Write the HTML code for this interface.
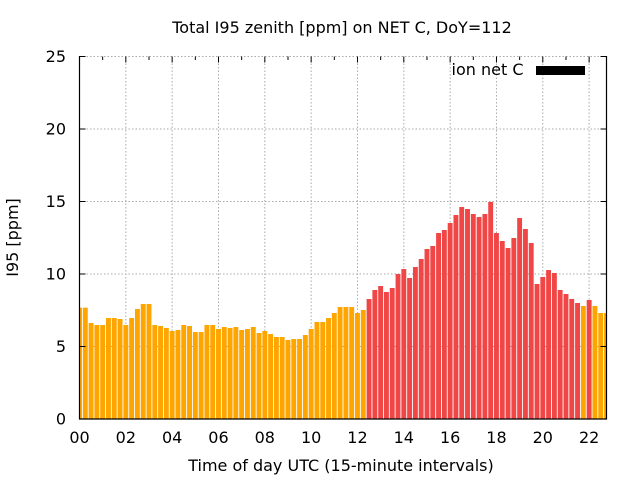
<!DOCTYPE html>
<html>
<head>
<meta charset="utf-8">
<style>
  html, body { margin:0; padding:0; background:#fff; }
  svg { display:block; }
  text { font-family: "DejaVu Sans", "Liberation Sans", sans-serif; font-size:16px; fill:#000; }
</style>
</head>
<body>
<svg width="640" height="480" viewBox="0 0 640 480" xmlns="http://www.w3.org/2000/svg">
  <rect x="0" y="0" width="640" height="480" fill="#fff"/>
  <defs>
    <clipPath id="plot"><rect x="79.5" y="56.5" width="527" height="362.5"/></clipPath>
  </defs>

  <g stroke="#aaaaaa" stroke-width="1" stroke-dasharray="1.5,2" fill="none">
    <line x1="79.5" y1="346.5" x2="606.5" y2="346.5"/>
    <line x1="79.5" y1="274" x2="606.5" y2="274"/>
    <line x1="79.5" y1="201.5" x2="606.5" y2="201.5"/>
    <line x1="79.5" y1="129" x2="606.5" y2="129"/>
    <line x1="79.5" y1="56.5" x2="606.5" y2="56.5"/>
    <line x1="125.83" y1="56.5" x2="125.83" y2="419"/>
    <line x1="172.16" y1="56.5" x2="172.16" y2="419"/>
    <line x1="218.49" y1="56.5" x2="218.49" y2="419"/>
    <line x1="264.82" y1="56.5" x2="264.82" y2="419"/>
    <line x1="311.15" y1="56.5" x2="311.15" y2="419"/>
    <line x1="357.48" y1="56.5" x2="357.48" y2="419"/>
    <line x1="403.81" y1="56.5" x2="403.81" y2="419"/>
    <line x1="450.14" y1="56.5" x2="450.14" y2="419"/>
    <line x1="496.47" y1="56.5" x2="496.47" y2="419"/>
    <line x1="542.8" y1="56.5" x2="542.8" y2="419"/>
    <line x1="589.13" y1="56.5" x2="589.13" y2="419"/>
  </g>

  <g clip-path="url(#plot)">
    <g fill="#ffa500">
      <rect x="77.05" y="307.7" width="4.9" height="111.3"/>
      <rect x="82.84" y="307.7" width="4.9" height="111.3"/>
      <rect x="88.63" y="323" width="4.9" height="96"/>
      <rect x="94.42" y="325" width="4.9" height="94"/>
      <rect x="100.21" y="325" width="4.9" height="94"/>
      <rect x="106.01" y="318" width="4.9" height="101"/>
      <rect x="111.80" y="318" width="4.9" height="101"/>
      <rect x="117.59" y="319" width="4.9" height="100"/>
      <rect x="123.38" y="325" width="4.9" height="94"/>
      <rect x="129.17" y="318" width="4.9" height="101"/>
      <rect x="134.96" y="309" width="4.9" height="110"/>
      <rect x="140.75" y="304" width="4.9" height="115"/>
      <rect x="146.54" y="304" width="4.9" height="115"/>
      <rect x="152.34" y="325" width="4.9" height="94"/>
      <rect x="158.13" y="326" width="4.9" height="93"/>
      <rect x="163.92" y="328" width="4.9" height="91"/>
      <rect x="169.71" y="331" width="4.9" height="88"/>
      <rect x="175.50" y="330" width="4.9" height="89"/>
      <rect x="181.29" y="325" width="4.9" height="94"/>
      <rect x="187.08" y="326" width="4.9" height="93"/>
      <rect x="192.87" y="332" width="4.9" height="87"/>
      <rect x="198.67" y="332" width="4.9" height="87"/>
      <rect x="204.46" y="325" width="4.9" height="94"/>
      <rect x="210.25" y="325" width="4.9" height="94"/>
      <rect x="216.04" y="329" width="4.9" height="90"/>
      <rect x="221.83" y="327" width="4.9" height="92"/>
      <rect x="227.62" y="328" width="4.9" height="91"/>
      <rect x="233.41" y="327" width="4.9" height="92"/>
      <rect x="239.20" y="330" width="4.9" height="89"/>
      <rect x="244.99" y="329" width="4.9" height="90"/>
      <rect x="250.79" y="327" width="4.9" height="92"/>
      <rect x="256.58" y="333" width="4.9" height="86"/>
      <rect x="262.37" y="331" width="4.9" height="88"/>
      <rect x="268.16" y="334" width="4.9" height="85"/>
      <rect x="273.95" y="337" width="4.9" height="82"/>
      <rect x="279.74" y="337" width="4.9" height="82"/>
      <rect x="285.53" y="340" width="4.9" height="79"/>
      <rect x="291.32" y="339" width="4.9" height="80"/>
      <rect x="297.12" y="339" width="4.9" height="80"/>
      <rect x="302.91" y="335" width="4.9" height="84"/>
      <rect x="308.70" y="329" width="4.9" height="90"/>
      <rect x="314.49" y="322" width="4.9" height="97"/>
      <rect x="320.28" y="322" width="4.9" height="97"/>
      <rect x="326.07" y="318" width="4.9" height="101"/>
      <rect x="331.86" y="313" width="4.9" height="106"/>
      <rect x="337.65" y="307" width="4.9" height="112"/>
      <rect x="343.45" y="307" width="4.9" height="112"/>
      <rect x="349.24" y="307" width="4.9" height="112"/>
      <rect x="355.03" y="313" width="4.9" height="106"/>
      <rect x="360.82" y="310" width="4.9" height="109"/>
      <rect x="580.89" y="306" width="4.9" height="113"/>
      <rect x="592.47" y="306" width="4.9" height="113"/>
      <rect x="598.26" y="313" width="4.9" height="106"/>
      <rect x="604.05" y="313" width="4.9" height="106"/>
    </g>
    <g fill="#f04646">
      <rect x="366.61" y="299" width="4.9" height="120"/>
      <rect x="372.40" y="290" width="4.9" height="129"/>
      <rect x="378.19" y="286" width="4.9" height="133"/>
      <rect x="383.98" y="292" width="4.9" height="127"/>
      <rect x="389.77" y="288" width="4.9" height="131"/>
      <rect x="395.57" y="274" width="4.9" height="145"/>
      <rect x="401.36" y="269" width="4.9" height="150"/>
      <rect x="407.15" y="278" width="4.9" height="141"/>
      <rect x="412.94" y="267" width="4.9" height="152"/>
      <rect x="418.73" y="259" width="4.9" height="160"/>
      <rect x="424.52" y="249" width="4.9" height="170"/>
      <rect x="430.31" y="246" width="4.9" height="173"/>
      <rect x="436.10" y="233" width="4.9" height="186"/>
      <rect x="441.90" y="230" width="4.9" height="189"/>
      <rect x="447.69" y="223" width="4.9" height="196"/>
      <rect x="453.48" y="215" width="4.9" height="204"/>
      <rect x="459.27" y="207" width="4.9" height="212"/>
      <rect x="465.06" y="209" width="4.9" height="210"/>
      <rect x="470.85" y="214" width="4.9" height="205"/>
      <rect x="476.64" y="217" width="4.9" height="202"/>
      <rect x="482.43" y="214" width="4.9" height="205"/>
      <rect x="488.23" y="202" width="4.9" height="217"/>
      <rect x="494.02" y="233" width="4.9" height="186"/>
      <rect x="499.81" y="241" width="4.9" height="178"/>
      <rect x="505.60" y="248" width="4.9" height="171"/>
      <rect x="511.39" y="238" width="4.9" height="181"/>
      <rect x="517.18" y="218" width="4.9" height="201"/>
      <rect x="522.97" y="229" width="4.9" height="190"/>
      <rect x="528.76" y="243" width="4.9" height="176"/>
      <rect x="534.56" y="284" width="4.9" height="135"/>
      <rect x="540.35" y="277" width="4.9" height="142"/>
      <rect x="546.14" y="270" width="4.9" height="149"/>
      <rect x="551.93" y="273" width="4.9" height="146"/>
      <rect x="557.72" y="290" width="4.9" height="129"/>
      <rect x="563.51" y="294" width="4.9" height="125"/>
      <rect x="569.30" y="299" width="4.9" height="120"/>
      <rect x="575.10" y="303" width="4.9" height="116"/>
      <rect x="586.68" y="300" width="4.9" height="119"/>
    </g>
  </g>

  <g stroke="#000" stroke-width="1.2" fill="none">
    <line x1="79.5" y1="56" x2="79.5" y2="419.5"/>
    <line x1="79" y1="419" x2="607" y2="419"/>
    <line x1="606.5" y1="56" x2="606.5" y2="419.5"/>
  </g>

  <g stroke="#000" stroke-width="1" fill="none">
    <line x1="79.5" y1="346.5" x2="85.5" y2="346.5"/>
    <line x1="79.5" y1="274" x2="85.5" y2="274"/>
    <line x1="79.5" y1="201.5" x2="85.5" y2="201.5"/>
    <line x1="79.5" y1="129" x2="85.5" y2="129"/>
    <line x1="79.5" y1="56.5" x2="85.5" y2="56.5"/>
    <line x1="600.5" y1="346.5" x2="606.5" y2="346.5"/>
    <line x1="600.5" y1="274" x2="606.5" y2="274"/>
    <line x1="600.5" y1="201.5" x2="606.5" y2="201.5"/>
    <line x1="600.5" y1="129" x2="606.5" y2="129"/>
    <line x1="600.5" y1="56.5" x2="606.5" y2="56.5"/>
    <line x1="102.67" y1="56.5" x2="102.67" y2="60"/>
    <line x1="125.83" y1="56.5" x2="125.83" y2="62.5"/>
    <line x1="149" y1="56.5" x2="149" y2="60"/>
    <line x1="172.16" y1="56.5" x2="172.16" y2="62.5"/>
    <line x1="195.33" y1="56.5" x2="195.33" y2="60"/>
    <line x1="218.49" y1="56.5" x2="218.49" y2="62.5"/>
    <line x1="241.66" y1="56.5" x2="241.66" y2="60"/>
    <line x1="264.82" y1="56.5" x2="264.82" y2="62.5"/>
    <line x1="287.99" y1="56.5" x2="287.99" y2="60"/>
    <line x1="311.15" y1="56.5" x2="311.15" y2="62.5"/>
    <line x1="334.32" y1="56.5" x2="334.32" y2="60"/>
    <line x1="357.48" y1="56.5" x2="357.48" y2="62.5"/>
    <line x1="380.65" y1="56.5" x2="380.65" y2="60"/>
    <line x1="403.81" y1="56.5" x2="403.81" y2="62.5"/>
    <line x1="426.98" y1="56.5" x2="426.98" y2="60"/>
    <line x1="450.14" y1="56.5" x2="450.14" y2="62.5"/>
    <line x1="473.31" y1="56.5" x2="473.31" y2="60"/>
    <line x1="496.47" y1="56.5" x2="496.47" y2="62.5"/>
    <line x1="519.64" y1="56.5" x2="519.64" y2="60"/>
    <line x1="542.8" y1="56.5" x2="542.8" y2="62.5"/>
    <line x1="565.97" y1="56.5" x2="565.97" y2="60"/>
    <line x1="589.13" y1="56.5" x2="589.13" y2="62.5"/>
  </g>

  <g text-anchor="end">
    <text x="66" y="424.5">0</text>
    <text x="66" y="352">5</text>
    <text x="66" y="279.5">10</text>
    <text x="66" y="207">15</text>
    <text x="66" y="134.5">20</text>
    <text x="66" y="62">25</text>
  </g>

  <g text-anchor="middle">
    <text x="79.5" y="443">00</text>
    <text x="125.83" y="443">02</text>
    <text x="172.16" y="443">04</text>
    <text x="218.49" y="443">06</text>
    <text x="264.82" y="443">08</text>
    <text x="311.15" y="443">10</text>
    <text x="357.48" y="443">12</text>
    <text x="403.81" y="443">14</text>
    <text x="450.14" y="443">16</text>
    <text x="496.47" y="443">18</text>
    <text x="542.8" y="443">20</text>
    <text x="589.13" y="443">22</text>
  </g>

  <text x="342" y="33" text-anchor="middle">Total I95 zenith [ppm] on NET C, DoY=112</text>
  <text x="341" y="471" text-anchor="middle">Time of day UTC (15-minute intervals)</text>
  <text transform="translate(18,237.5) rotate(-90)" text-anchor="middle">I95 [ppm]</text>

  <text x="523.5" y="75" text-anchor="end">ion net C</text>
  <rect x="536" y="66" width="49" height="9" fill="#000"/>
</svg>
</body>
</html>
